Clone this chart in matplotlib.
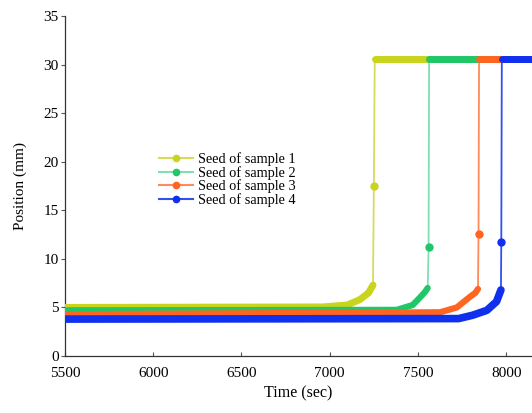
import matplotlib
matplotlib.use("Agg")
import matplotlib.pyplot as plt
from matplotlib.lines import Line2D

plt.rcParams['font.family'] = ['Liberation Serif', 'DejaVu Serif']

x_ticks = [5500, 6000, 6500, 7000, 7500, 8000]
y_ticks = [0, 5, 10, 15, 20, 25, 30, 35]
labels = ["Seed of sample 1", "Seed of sample 2", "Seed of sample 3", "Seed of sample 4"]

# key points: baseline + rise (before jump), mid point, plateau
t1_pre = [5500, 6960, 7100, 7170, 7220, 7245]
p1_pre = [5.0, 5.05, 5.25, 5.8, 6.5, 7.3]
t1_mid, p1_mid = 7250, 17.5
t1_plat = [7255, 8200]
p1_plat = [30.6, 30.6]

t2_pre = [5500, 7380, 7470, 7510, 7540, 7555]
p2_pre = [4.7, 4.75, 5.25, 6.0, 6.6, 7.0]
t2_mid, p2_mid = 7560, 11.2
t2_plat = [7563, 8200]
p2_plat = [30.6, 30.6]

t3_pre = [5500, 7625, 7720, 7795, 7825, 7840]
p3_pre = [4.3, 4.5, 5.0, 6.1, 6.5, 6.9]
t3_mid, p3_mid = 7843, 12.6
t3_plat = [7846, 8200]
p3_plat = [30.6, 30.6]

t4_pre = [5500, 7730, 7810, 7890, 7945, 7970]
p4_pre = [3.8, 3.85, 4.2, 4.7, 5.6, 6.8]
t4_mid, p4_mid = 7972, 11.7
t4_plat = [7975, 8200]
p4_plat = [30.6, 30.6]

series = [
    (t1_pre, p1_pre, t1_mid, p1_mid, t1_plat, p1_plat),
    (t2_pre, p2_pre, t2_mid, p2_mid, t2_plat, p2_plat),
    (t3_pre, p3_pre, t3_mid, p3_mid, t3_plat, p3_plat),
    (t4_pre, p4_pre, t4_mid, p4_mid, t4_plat, p4_plat),
]
colors = ['#c9d41c', '#1fc768', '#ff6420', '#1030f0']
thin_colors = ['#d6dc5a', '#7fe0b2', '#ff8a5a', '#3050f0']
widths = [5, 4.5, 4.5, 5.5]

fig = plt.figure(figsize=(5.32, 4.13), dpi=100)
ax = fig.add_axes([65/532, 57/413, 467/532, 340/413])

for (tp, pp, tm, pm, tpl, ppl), c, tc, w in zip(series, colors, thin_colors, widths):
    ax.plot([tp[-1], tm, tpl[0]], [pp[-1], pm, ppl[0]], color=tc, lw=1.3, zorder=2)
    ax.plot(tp, pp, color=c, lw=w, solid_capstyle='round', solid_joinstyle='round', zorder=3)
    ax.plot(tpl, ppl, color=c, lw=5, solid_capstyle='round', zorder=3)
    ax.plot([tm], [pm], 'o', color=c, ms=5, zorder=4)

ax.set_xlim(5500, 8146)
ax.set_ylim(0, 35)
ax.set_xticks(x_ticks)
ax.set_yticks(y_ticks)
for s in ['top', 'right']:
    ax.spines[s].set_visible(False)
for s in ['left', 'bottom']:
    ax.spines[s].set_color('#333333')
    ax.spines[s].set_linewidth(0.9)
ax.tick_params(axis='x', direction='in', length=3, labelsize=11, pad=8, color='#555555')
ax.tick_params(axis='y', direction='out', length=3, labelsize=11, pad=1.5, color='#555555')
ax.set_xlabel("Time (sec)", fontsize=11.5, labelpad=4)
ax.set_ylabel("Position (mm)", fontsize=11, labelpad=12)

handles = [Line2D([0], [0], color=tc, lw=1.5, marker='o', ms=4.5, markerfacecolor=c, markeredgecolor=c)
           for c, tc in zip(colors, thin_colors)]
leg = fig.legend(handles, labels, loc='upper left', bbox_to_anchor=(152/532, 1 - 145/413),
                 frameon=False, fontsize=10.3, handlelength=2.4, handletextpad=0.35,
                 labelspacing=0.0, borderpad=0)

fig.savefig("out.png", dpi=100)
